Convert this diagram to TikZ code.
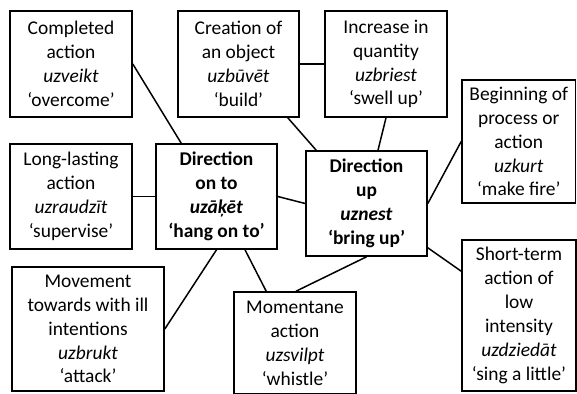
\documentclass[tikz,border=0pt]{standalone}
\usepackage{fontspec}
\setmainfont{Carlito}
\begin{document}
\begin{tikzpicture}[x=1bp, y=-1bp,
  box/.style={draw, line width=1.6bp, rectangle, inner sep=0pt, align=center,
    font=\fontsize{19.5}{24}\selectfont},
  head/.style={box, font=\fontsize{19.5}{24}\selectfont\bfseries},
  link/.style={line width=1.5bp}]
\useasboundingbox (0,0) rectangle (577,393);
\clip (0,0) rectangle (577,393);

% outer meanings
\node[box, minimum width=122bp, minimum height=106bp] (A) at (71,64)
  {Completed\\action\\\textit{uzveikt}\\‘overcome’};
\node[box, minimum width=121bp, minimum height=106bp] (B) at (238.5,64)
  {Creation of\\an object\\\textit{uzbūvēt}\\‘build’};
\node[box, minimum width=122bp, minimum height=106bp] (C) at (386,64)
  {Increase in\\quantity\\\textit{uzbriest}\\‘swell up’};
\node[box, minimum width=113.5bp, minimum height=123bp] (D) at (518.75,141.5)
  {Beginning of\\process or\\action\\\textit{uzkurt}\\‘make fire’};
\node[box, minimum width=122bp, minimum height=105bp] (E) at (71,196.5)
  {Long-lasting\\action\\\textit{uzraudzīt}\\‘supervise’};
\node[box, minimum width=152bp, minimum height=124bp] (H) at (88,329)
  {Movement\\towards with ill\\intentions\\\textit{uzbrukt}\\‘attack’};
\node[box, minimum width=122bp, minimum height=102bp] (I) at (295,343)
  {Momentane\\action\\\textit{uzsvilpt}\\‘whistle’};
\node[box, minimum width=114bp, minimum height=151bp] (J) at (519,315.5)
  {Short-term\\action of\\low\\intensity\\\textit{uzdziedāt}\\‘sing a little’};

% the two core meanings
\node[head, minimum width=121bp, minimum height=105bp] (F) at (216.5,196.5)
  {Direction\\on to\\\textit{uzāķēt}\\‘hang on to’};
\node[head, minimum width=121bp, minimum height=105bp] (G) at (366.5,203.5)
  {Direction\\up\\\textit{uznest}\\‘bring up’};

% connections
\draw[link] (A.east) -- ([xshift=26bp]F.north west);
\draw[link] (B.east) -- (C.west);
\draw[link] ([xshift=-12bp]B.south east) -- ([xshift=11bp]G.north west);
\draw[link] (C.south) -- ([xshift=11.5bp]G.north);
\draw[link] (G.east) -- (D.west);
\draw[link] (E.east) -- (F.west);
\draw[link] (F.east) -- (G.west);
\draw[link] (H.east) -- (F.south);
\draw[link] ([xshift=28.5bp]F.south) -- ([xshift=33bp]I.north west);
\draw[link] ([xshift=1bp]I.north) -- (G.south);
\draw[link] ([yshift=9bp]G.south east) -- ([yshift=-32bp]J.north west);
\end{tikzpicture}
\end{document}
